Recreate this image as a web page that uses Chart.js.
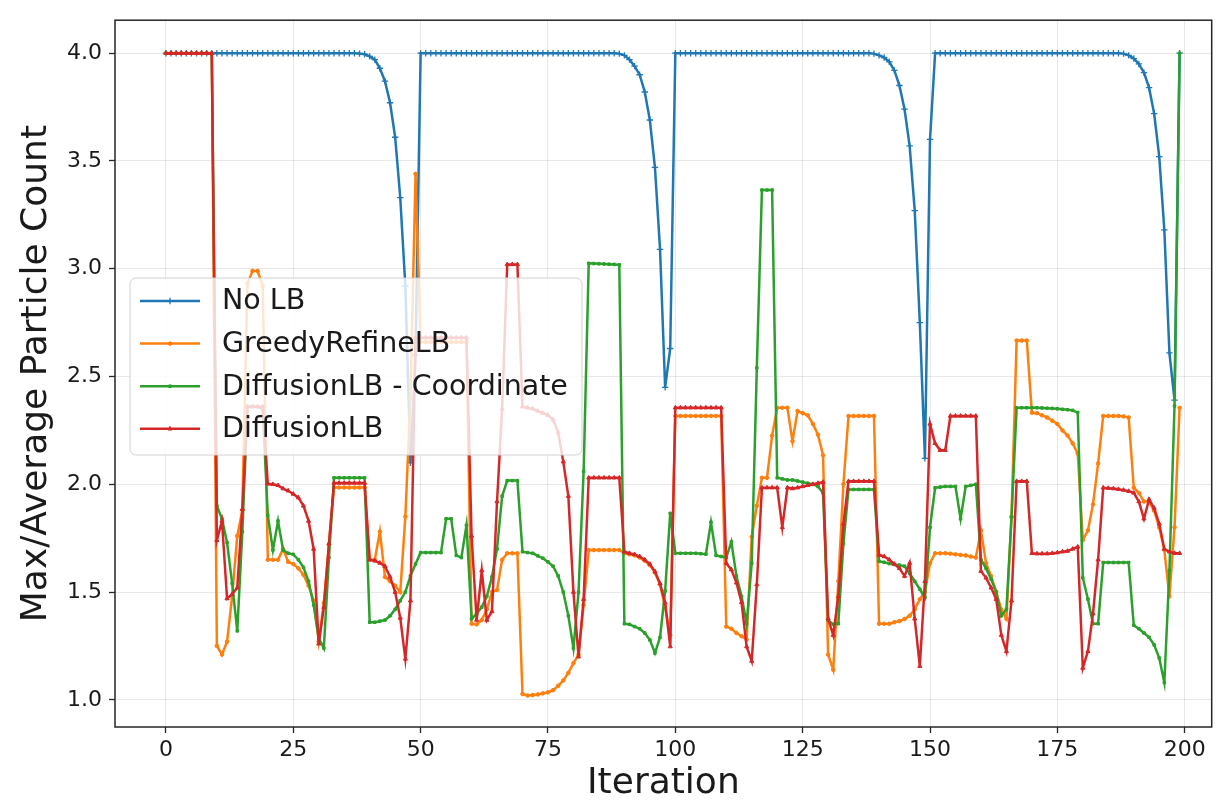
<!DOCTYPE html>
<html>
<head>
<meta charset="utf-8">
<script src="https://cdn.jsdelivr.net/npm/chart.js@4.4.0/dist/chart.umd.min.js"></script>
<style>
  html, body { margin: 0; padding: 0; background: #ffffff; }
  #wrap { width: 1217px; height: 802px; }
</style>
</head>
<body>
<div id="wrap"><canvas id="myChart" width="1217" height="802"></canvas></div>
<script>
// Iterações (eixo x)
const iterations = Array.from({ length: 200 }, (_, i) => i);

// Séries, 10 valores por linha
const noLB = [
  4.0, 4.0, 4.0, 4.0, 4.0, 4.0, 4.0, 4.0, 4.0, 4.0,
  4.0, 4.0, 4.0, 4.0, 4.0, 4.0, 4.0, 4.0, 4.0, 4.0,
  4.0, 4.0, 4.0, 4.0, 4.0, 4.0, 4.0, 4.0, 4.0, 4.0,
  4.0, 4.0, 4.0, 4.0, 4.0, 4.0, 4.0, 4.0, 3.998, 3.995,
  3.985, 3.97, 3.93, 3.87, 3.77, 3.61, 3.33, 2.92, 2.10, 2.60,
  4.0, 4.0, 4.0, 4.0, 4.0, 4.0, 4.0, 4.0, 4.0, 4.0,
  4.0, 4.0, 4.0, 4.0, 4.0, 4.0, 4.0, 4.0, 4.0, 4.0,
  4.0, 4.0, 4.0, 4.0, 4.0, 4.0, 4.0, 4.0, 4.0, 4.0,
  4.0, 4.0, 4.0, 4.0, 4.0, 4.0, 4.0, 4.0, 4.0, 3.998,
  3.99, 3.97, 3.94, 3.90, 3.82, 3.69, 3.47, 3.09, 2.45, 2.63,
  4.0, 4.0, 4.0, 4.0, 4.0, 4.0, 4.0, 4.0, 4.0, 4.0,
  4.0, 4.0, 4.0, 4.0, 4.0, 4.0, 4.0, 4.0, 4.0, 4.0,
  4.0, 4.0, 4.0, 4.0, 4.0, 4.0, 4.0, 4.0, 4.0, 4.0,
  4.0, 4.0, 4.0, 4.0, 4.0, 4.0, 4.0, 4.0, 4.0, 3.998,
  3.99, 3.98, 3.96, 3.92, 3.85, 3.74, 3.57, 3.27, 2.75, 2.12,
  3.60, 4.0, 4.0, 4.0, 4.0, 4.0, 4.0, 4.0, 4.0, 4.0,
  4.0, 4.0, 4.0, 4.0, 4.0, 4.0, 4.0, 4.0, 4.0, 4.0,
  4.0, 4.0, 4.0, 4.0, 4.0, 4.0, 4.0, 4.0, 4.0, 4.0,
  4.0, 4.0, 4.0, 4.0, 4.0, 4.0, 4.0, 4.0, 3.998, 3.99,
  3.975, 3.95, 3.91, 3.84, 3.72, 3.52, 3.18, 2.61, 2.39, 4.0
];

const greedyRefineLB = [
  4.0, 4.0, 4.0, 4.0, 4.0, 4.0, 4.0, 4.0, 4.0, 4.0,
  1.25, 1.21, 1.27, 1.48, 1.76, 1.88, 2.93, 2.99, 2.99, 2.92,
  1.65, 1.65, 1.65, 1.70, 1.64, 1.63, 1.61, 1.58, 1.53, 1.46,
  1.27, 1.45, 1.72, 1.985, 1.985, 1.985, 1.985, 1.985, 1.985, 1.985,
  1.65, 1.65, 1.78, 1.57, 1.55, 1.53, 1.50, 1.85, 2.40, 3.44,
  2.66, 2.66, 2.66, 2.66, 2.66, 2.66, 2.66, 2.66, 2.66, 2.66,
  1.353, 1.35, 1.37, 1.42, 1.50, 1.51, 1.65, 1.68, 1.68, 1.68,
  1.027, 1.02, 1.022, 1.025, 1.03, 1.035, 1.045, 1.065, 1.09, 1.125,
  1.17, 1.21, 1.44, 1.695, 1.695, 1.695, 1.695, 1.695, 1.695, 1.695,
  1.68, 1.675, 1.67, 1.66, 1.645, 1.625, 1.59, 1.535, 1.43, 1.30,
  2.317, 2.317, 2.317, 2.317, 2.317, 2.317, 2.317, 2.317, 2.317, 2.317,
  1.34, 1.33, 1.31, 1.295, 1.28, 1.756, 1.90, 2.03, 2.03, 2.226,
  2.355, 2.355, 2.355, 2.20, 2.34, 2.33, 2.32, 2.28, 2.23, 2.135,
  1.21, 1.14, 1.55, 2.0, 2.317, 2.317, 2.317, 2.317, 2.317, 2.317,
  1.353, 1.353, 1.353, 1.36, 1.365, 1.375, 1.39, 1.42, 1.467, 1.50,
  1.634, 1.68, 1.68, 1.68, 1.678, 1.675, 1.672, 1.67, 1.665, 1.66,
  1.786, 1.634, 1.574, 1.50, 1.42, 1.376, 1.85, 2.667, 2.667, 2.667,
  2.332, 2.33, 2.32, 2.31, 2.295, 2.28, 2.25, 2.226, 2.19, 2.143,
  1.74, 1.786, 1.907, 2.097, 2.317, 2.317, 2.317, 2.317, 2.315, 2.31,
  1.984, 1.96, 1.92, 1.92, 1.877, 1.80, 1.695, 1.48, 1.80, 2.355
];

const diffusionCoord = [
  4.0, 4.0, 4.0, 4.0, 4.0, 4.0, 4.0, 4.0, 4.0, 4.0,
  1.90, 1.84, 1.73, 1.54, 1.32, 1.78, 2.36, 2.36, 2.36, 2.35,
  1.855, 1.695, 1.83, 1.695, 1.68, 1.675, 1.65, 1.615, 1.55, 1.44,
  1.285, 1.24, 1.66, 2.03, 2.03, 2.03, 2.03, 2.03, 2.03, 2.03,
  1.36, 1.36, 1.365, 1.37, 1.39, 1.42, 1.46, 1.50, 1.575, 1.63,
  1.683, 1.683, 1.683, 1.683, 1.683, 1.84, 1.84, 1.67, 1.66, 1.81,
  1.376, 1.40, 1.43, 1.48, 1.57, 1.70, 1.945, 2.017, 2.017, 2.017,
  1.687, 1.683, 1.68, 1.668, 1.657, 1.64, 1.62, 1.575, 1.50, 1.39,
  1.24, 1.50, 2.06, 3.025, 3.024, 3.023, 3.022, 3.021, 3.02, 3.018,
  1.353, 1.35, 1.34, 1.33, 1.31, 1.278, 1.217, 1.29, 1.505, 1.865,
  1.68, 1.68, 1.68, 1.68, 1.68, 1.678, 1.676, 1.824, 1.67, 1.665,
  1.66, 1.733, 1.574, 1.48, 1.353, 1.634, 2.54, 3.365, 3.365, 3.365,
  2.03, 2.025, 2.02, 2.02, 2.015, 2.01, 2.005, 2.0, 1.99, 1.96,
  1.37, 1.35, 1.353, 1.725, 1.976, 1.976, 1.976, 1.976, 1.976, 1.976,
  1.642, 1.638, 1.632, 1.628, 1.625, 1.62, 1.586, 1.55, 1.513, 1.475,
  1.80, 1.984, 1.987, 1.99, 1.99, 1.99, 1.84, 1.99, 1.995, 2.0,
  1.65, 1.61, 1.56, 1.50, 1.39, 1.42, 1.847, 2.355, 2.355, 2.355,
  2.355, 2.355, 2.354, 2.353, 2.352, 2.35, 2.348, 2.346, 2.343, 2.333,
  1.566, 1.467, 1.353, 1.353, 1.637, 1.637, 1.637, 1.637, 1.637, 1.637,
  1.346, 1.33, 1.31, 1.29, 1.255, 1.194, 1.08, 1.60, 2.363, 4.0
];

const diffusionLB = [
  4.0, 4.0, 4.0, 4.0, 4.0, 4.0, 4.0, 4.0, 4.0, 4.0,
  1.74, 1.83, 1.47, 1.49, 1.52, 1.885, 2.36, 2.36, 2.36, 2.36,
  2.002, 2.0, 1.995, 1.98, 1.97, 1.955, 1.938, 1.90, 1.83, 1.70,
  1.26, 1.43, 1.725, 2.006, 2.006, 2.006, 2.006, 2.006, 2.006, 2.006,
  1.65, 1.645, 1.635, 1.62, 1.57, 1.50, 1.38, 1.19, 1.46, 2.68,
  2.68, 2.68, 2.68, 2.68, 2.68, 2.68, 2.68, 2.68, 2.68, 2.68,
  1.76, 1.37, 1.60, 1.37, 1.41, 1.92, 2.35, 3.02, 3.02, 3.02,
  2.36, 2.355, 2.35, 2.34, 2.33, 2.32, 2.30, 2.24, 2.105, 1.945,
  1.50, 1.20, 1.467, 2.03, 2.03, 2.03, 2.03, 2.03, 2.03, 2.03,
  1.687, 1.68, 1.675, 1.665, 1.65, 1.63, 1.595, 1.54, 1.45, 1.247,
  2.355, 2.355, 2.355, 2.355, 2.355, 2.355, 2.355, 2.355, 2.355, 2.355,
  1.634, 1.604, 1.543, 1.452, 1.247, 1.18, 1.535, 1.984, 1.984, 1.984,
  1.984, 1.80, 1.984, 1.98, 1.984, 1.99, 1.995, 2.0, 2.005, 2.01,
  1.376, 1.30, 1.48, 1.817, 2.014, 2.014, 2.014, 2.014, 2.014, 2.014,
  1.672, 1.665, 1.65, 1.63, 1.61, 1.574, 1.634, 1.376, 1.156, 1.55,
  2.28, 2.19, 2.158, 2.158, 2.317, 2.317, 2.317, 2.317, 2.317, 2.317,
  1.597, 1.566, 1.52, 1.467, 1.30, 1.225, 1.46, 2.014, 2.014, 2.014,
  1.68, 1.678, 1.678, 1.678, 1.68, 1.683, 1.687, 1.69, 1.70, 1.71,
  1.148, 1.225, 1.40, 1.65, 1.984, 1.982, 1.98, 1.977, 1.973, 1.968,
  1.96, 1.92, 1.84, 1.93, 1.89, 1.817, 1.70, 1.687, 1.68, 1.68
];

const seriesNames = ['No LB', 'GreedyRefineLB', 'DiffusionLB - Coordinate', 'DiffusionLB'];
const xTicks = [0, 25, 50, 75, 100, 125, 150, 175, 200];
const yTicks = [1.0, 1.5, 2.0, 2.5, 3.0, 3.5, 4.0];

// Estilo das séries (cores tab10 do matplotlib)
const colors = ['#1f77b4', '#ff7f0e', '#2ca02c', '#d62728'];
const pointStyles = ['cross', 'circle', 'rect', 'triangle'];
const pointSizes = [3.2, 1.8, 1.8, 2.4];
const FONT = "'DejaVu Sans', sans-serif";
const gridColor = 'rgba(0,0,0,0.09)';

Chart.defaults.font.family = FONT;

function makeDataset(i, values) {
    return {
        label: seriesNames[i],
        data: values.map((v, k) => ({ x: iterations[k], y: v })),
        borderColor: colors[i],
        backgroundColor: colors[i],
        pointBackgroundColor: colors[i],
        pointBorderColor: colors[i],
        pointStyle: pointStyles[i],
        pointRadius: pointSizes[i],
        pointBorderWidth: i === 0 ? 1.3 : 1,
        borderWidth: 2.5,
        tension: 0,
        order: 3 - i // a última série fica por cima, como no matplotlib
    };
}

// Moldura do gráfico
const frame = {
    id: 'frame',
    afterDatasetsDraw(chart) {
        const { ctx, chartArea: a } = chart;
        ctx.save();
        ctx.strokeStyle = '#262626';
        ctx.lineWidth = 1.5;
        ctx.strokeRect(a.left, a.top, a.right - a.left, a.bottom - a.top);
        ctx.restore();
    }
};

// Legenda dentro da área do gráfico
const legendBox = {
    id: 'legendBox',
    afterDraw(chart) {
        const ctx = chart.ctx;
        const x0 = 130, y0 = 278, w = 452, h = 177;
        ctx.save();
        ctx.beginPath();
        ctx.roundRect(x0, y0, w, h, 6);
        ctx.fillStyle = 'rgba(255,255,255,0.8)';
        ctx.fill();
        ctx.strokeStyle = 'rgba(204,204,204,0.9)';
        ctx.lineWidth = 1;
        ctx.stroke();
        chart.data.datasets.forEach((ds, i) => {
            const y = 301 + i * 42.6;
            ctx.strokeStyle = ds.borderColor;
            ctx.lineWidth = 2.5;
            ctx.beginPath();
            ctx.moveTo(140, y);
            ctx.lineTo(200, y);
            ctx.stroke();
            ctx.fillStyle = ds.borderColor;
            ctx.lineWidth = ds.pointBorderWidth;
            Chart.helpers.drawPoint(ctx, {
                pointStyle: ds.pointStyle,
                radius: ds.pointRadius,
                borderWidth: ds.pointBorderWidth,
                rotation: 0
            }, 170, y);
            ctx.fillStyle = '#1a1a1a';
            ctx.font = '28.5px ' + FONT;
            ctx.textBaseline = 'middle';
            ctx.textAlign = 'left';
            ctx.fillText(ds.label, 222, y + 1);
        });
        ctx.restore();
    }
};

const ctx = document.getElementById('myChart').getContext('2d');
const myChart = new Chart(ctx, {
    type: 'line',
    data: {
        datasets: [
            makeDataset(0, noLB),
            makeDataset(1, greedyRefineLB),
            makeDataset(2, diffusionCoord),
            makeDataset(3, diffusionLB)
        ]
    },
    options: {
        responsive: false,
        animation: false,
        events: [],
        devicePixelRatio: 1,
        layout: { padding: { left: 0, right: 4, top: 7, bottom: 0 } },
        scales: {
            x: {
                type: 'linear',
                min: -10,
                max: 205.3,
                afterBuildTicks: (s) => { s.ticks = xTicks.map(v => ({ value: v })); },
                afterFit: (s) => { s.height = 75; },
                border: { display: false },
                grid: { color: gridColor, lineWidth: 1, drawTicks: true, tickLength: 6, tickColor: '#262626', tickWidth: 1.3 },
                ticks: {
                    color: '#1a1a1a',
                    font: { size: 22 },
                    padding: 4,
                    maxRotation: 0,
                    autoSkip: false,
                    callback: (v) => String(v)
                },
                title: {
                    display: true,
                    text: 'Iteration',
                    color: '#1a1a1a',
                    font: { size: 36, lineHeight: 1 },
                    padding: { top: 0, bottom: 0 }
                }
            },
            y: {
                type: 'linear',
                min: 0.874,
                max: 4.153,
                afterBuildTicks: (s) => { s.ticks = yTicks.map(v => ({ value: v })); },
                afterFit: (s) => { s.width = 115; },
                border: { display: false },
                grid: { color: gridColor, lineWidth: 1, drawTicks: true, tickLength: 6, tickColor: '#262626', tickWidth: 1.3 },
                ticks: {
                    color: '#1a1a1a',
                    font: { size: 22 },
                    padding: 7,
                    callback: (v) => v.toFixed(1)
                },
                title: {
                    display: true,
                    text: 'Max/Average Particle Count',
                    color: '#1a1a1a',
                    font: { size: 36, lineHeight: 1 },
                    padding: { top: 19, bottom: 0 }
                }
            }
        },
        plugins: {
            legend: { display: false },
            tooltip: { enabled: false }
        }
    },
    plugins: [frame, legendBox]
});
</script>
</body>
</html>
